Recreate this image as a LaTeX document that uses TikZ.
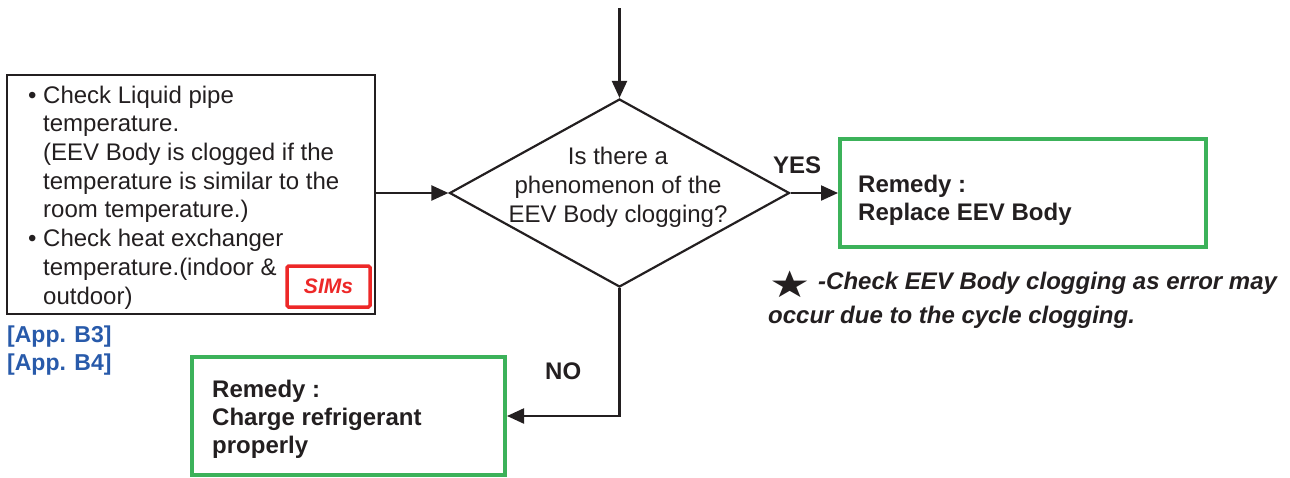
\documentclass[tikz,border=0pt]{standalone}
\usepackage{fontspec}
\setmainfont{Liberation Sans}
\newfontfamily\symfont{DejaVu Sans}
\usetikzlibrary{arrows.meta,shapes.geometric}
\definecolor{lineblack}{RGB}{35,31,32}
\definecolor{remgreen}{RGB}{60,178,90}
\definecolor{simred}{RGB}{237,40,40}
\definecolor{appblue}{RGB}{40,90,170}
\begin{document}
\begin{tikzpicture}[x=1pt,y=-1pt,
  conn/.style={draw=lineblack,line width=2.2pt,-{Triangle[length=17pt,width=15pt]}},
  txt/.style={inner sep=0pt,font=\fontsize{24}{29}\selectfont,text=lineblack},
  btxt/.style={inner sep=0pt,font=\fontsize{24}{28}\selectfont\bfseries,text=lineblack},
  bitxt/.style={inner sep=0pt,font=\fontsize{24}{29}\selectfont\bfseries\itshape,text=lineblack},
  checkbox/.style={draw=lineblack,line width=2.5pt,minimum width=368pt,minimum height=239pt,inner sep=0pt},
  remedybox/.style={draw=remgreen,line width=4pt,inner sep=0pt},
  simsbox/.style={draw=simred,line width=3.5pt,rounded corners=1.5pt,minimum width=83pt,minimum height=41pt,inner sep=0pt,
    font=\fontsize{21}{24}\selectfont\bfseries\itshape,text=simred},
  decision/.style={draw=lineblack,line width=2.2pt,shape=diamond,minimum width=340pt,minimum height=188pt,inner sep=0pt}
]
\useasboundingbox (0,0) rectangle (1290,477);

% boxes
\node[checkbox] (leftbox) at (191,194.5) {};
\node[simsbox] (sims) at (328.5,286.5) {SIMs};
\node[decision] (dia) at (619.5,193) {};
\node[remedybox,minimum width=366pt,minimum height=108pt] (yesbox) at (1023,193) {};
\node[remedybox,minimum width=313pt,minimum height=118pt] (nobox) at (348.5,416) {};
\coordinate (topstart) at (619.5,8);

% texts (base anchor = baseline of last line)
\node[txt,anchor=base west,align=left,font=\fontsize{24}{28.7}\selectfont] (lefttext) at (43,304)
  {\llap{•\ }Check Liquid pipe\\
   temperature.\\
   (EEV Body is clogged if the\\
   temperature is similar to the\\
   room temperature.)\\
   \llap{•\ }Check heat exchanger\\
   temperature.(indoor \&\\
   outdoor)};
\node[inner sep=0pt,anchor=base west,align=left,font=\fontsize{23}{28}\selectfont\bfseries,text=appblue] (app) at (7,370)
  {{[App. B3]}\\ {[App. B4]}};
\node[txt,anchor=base,align=center] (diatext) at (618,222)
  {Is there a\\ phenomenon of the\\ EEV Body clogging?};
\node[btxt,anchor=base west] (yes) at (773,173) {YES};
\node[btxt,anchor=base west] (no) at (545,379) {NO};
\node[btxt,anchor=base west,align=left] (yestext) at (858,220) {Remedy :\\ Replace EEV Body};
\node[btxt,anchor=base west,align=left] (notext) at (212,453) {Remedy :\\ Charge refrigerant\\ properly};
\node[inner sep=0pt,font=\fontsize{46}{48}\symfont,text=lineblack] (star) at (790,284) {\scalebox{1}[0.8]{★}};
\node[bitxt,anchor=base west] (note1) at (818,289) {-Check EEV Body clogging as error may};
\node[bitxt,anchor=base west] (note2) at (768,323) {occur due to the cycle clogging.};

% connectors
\draw[conn] (topstart) -- (dia.north);
\draw[conn] (leftbox.east |- dia.west) -- (dia.west);
\draw[conn] (dia.east) -- (yesbox.west);
\draw[conn] (dia.south) |- (nobox.east);
\end{tikzpicture}
\end{document}
